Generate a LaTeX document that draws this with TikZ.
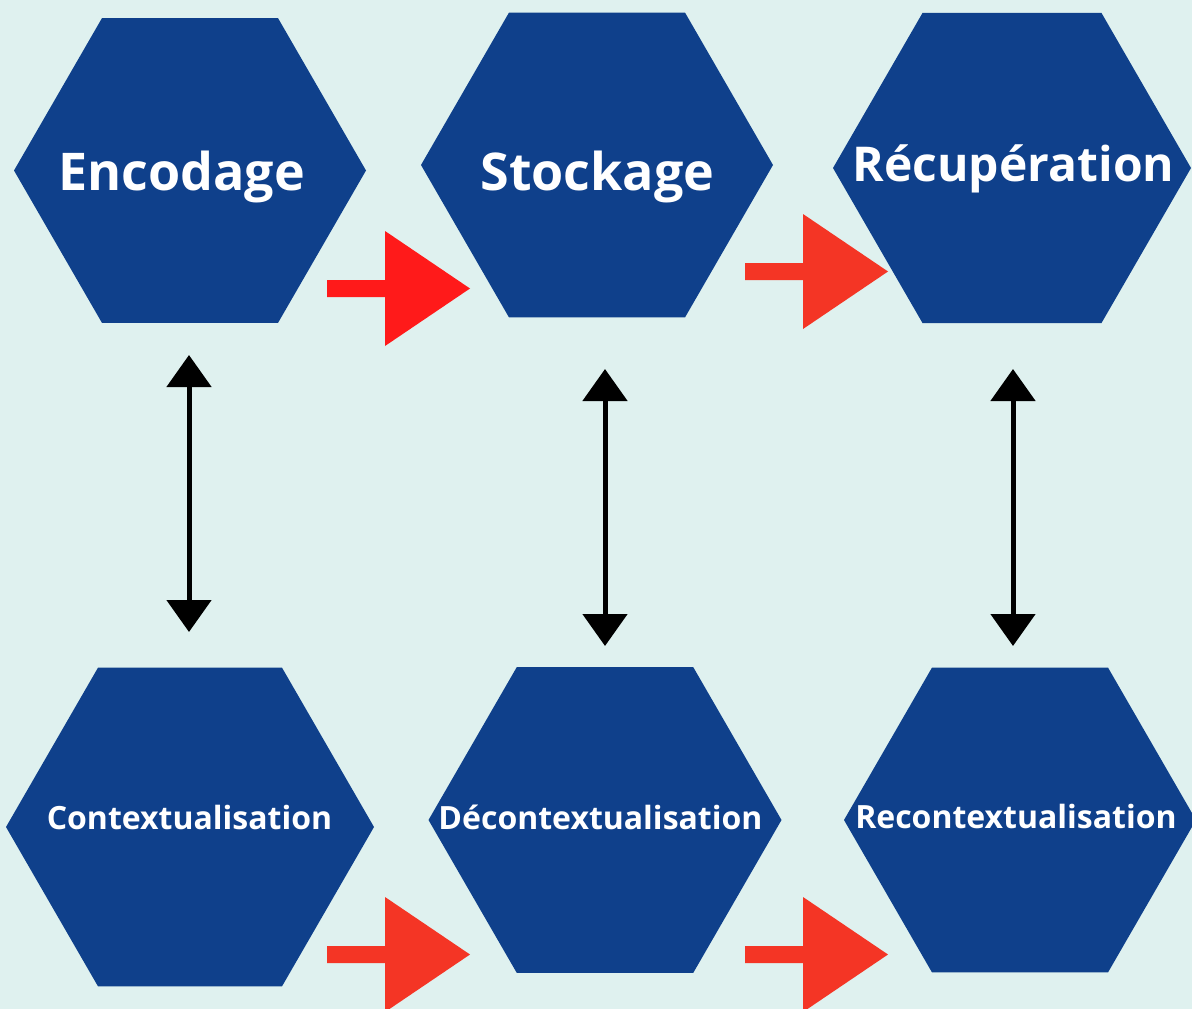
\documentclass[tikz,border=0pt]{standalone}
\usepackage{fontspec}
\setmainfont{Open Sans}
\usetikzlibrary{arrows.meta,shapes.geometric}
\definecolor{bgmint}{HTML}{DFF1EF}
\definecolor{hexblue}{HTML}{0F408B}
\definecolor{redA}{HTML}{FF1A1A}
\definecolor{redB}{HTML}{F43525}
\tikzstyle{hexa}=[regular polygon,regular polygon sides=6,fill=hexblue,inner sep=0pt,outer sep=0pt]
\tikzstyle{biglabel}=[text=white,font=\fontsize{52}{60}\selectfont\bfseries,inner sep=0pt,anchor=base]
\tikzstyle{smalllabel}=[text=white,font=\fontsize{32}{40}\selectfont\bfseries,inner sep=0pt,anchor=base]
\tikzstyle{link}=[draw,line width=5pt,<->,>={Triangle[width=44pt,length=32pt]}]

\begin{document}
\begin{tikzpicture}[x=1pt,y=-1pt]
    \useasboundingbox (0,0) rectangle (1192,1009);
    \fill[bgmint] (0,0) rectangle (1192,1009);
    % First we draw the hexagons
    \foreach \pos/\size/\name in {{(190,170.5)/352/enc}, {(597,165)/352/sto}, {(1012,168)/358/rec},
                                  {(190,827)/368/ctx}, {(605,820)/353/dec}, {(1020,820)/352/rcx}}
        \node[hexa,minimum size=\size pt] (\name) at \pos {};
    % Then the labels
    \foreach \pos/\name/\txt in {{(181.5,190)/enc-l/Encodage}, {(597.5,190.5)/sto-l/Stockage}}
        \node[biglabel] (\name) at \pos {\txt};
    \node[biglabel,font=\fontsize{48}{56}\selectfont\bfseries] (rec-l) at (1013.5,181.5) {Récupération};
    \foreach \pos/\name/\txt in {{(189.5,829)/ctx-l/Contextualisation}, {(600.5,829)/dec-l/Décontextualisation},
                                 {(1016,828.5)/rcx-l/Recontextualisation}}
        \node[smalllabel] (\name) at \pos {\txt};
    % Red block arrows between the steps
    \foreach \x/\y/\col in {327/288.5/redA, 745/271.5/redB, 327/954.5/redB, 745/954.5/redB}
        \fill[\col] (\x,\y) ++(0,-8.5) -- ++(58,0) -- ++(0,-49) -- ++(85,57.5) -- ++(-85,57.5) -- ++(0,-49) -- ++(-58,0) -- cycle;
    % Double arrows between the rows
    \foreach \name/\x/\top/\bot in {a/189/355/632, b/605/369/646, c/1013/369/646} {
        \coordinate (\name-t) at (\x,\top);
        \coordinate (\name-b) at (\x,\bot);
        \path[link] (\name-t) -- (\name-b);
    }
\end{tikzpicture}
\end{document}
